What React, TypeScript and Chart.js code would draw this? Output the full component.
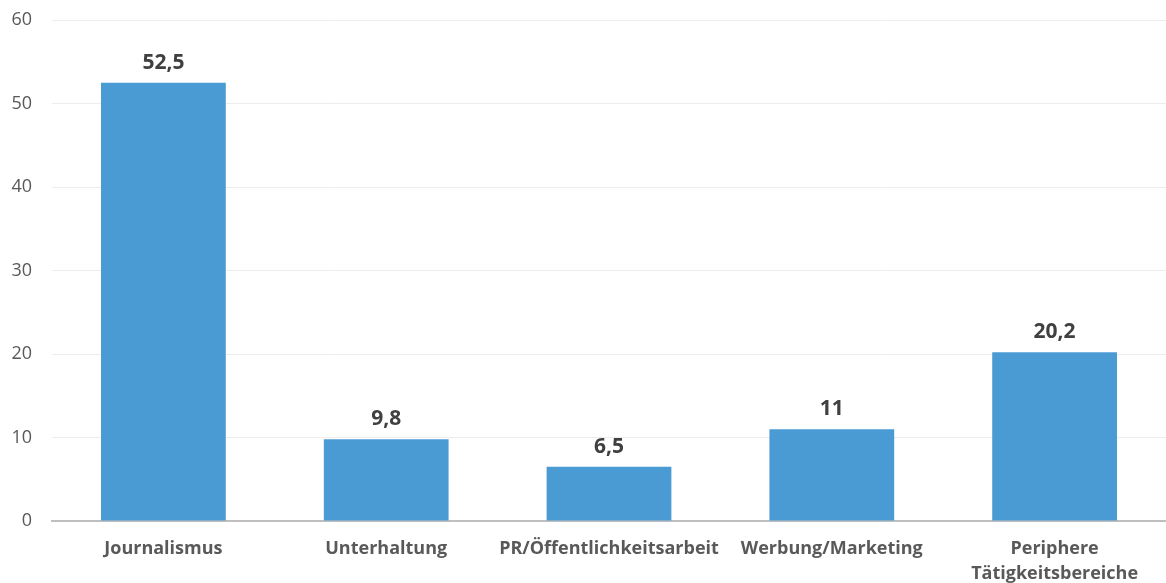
import React, { useEffect, useRef } from "react";
import { Chart, registerables } from "chart.js";

Chart.register(...registerables);

const categories: (string | string[])[] = [
  "Journalismus",
  "Unterhaltung",
  "PR/Öffentlichkeitsarbeit",
  "Werbung/Marketing",
  ["Periphere", "Tätigkeitsbereiche"],
];
const values: number[] = [52.5, 9.8, 6.5, 11, 20.2];
const yTicks: number[] = [0, 10, 20, 30, 40, 50, 60];

const FONT = "'Open Sans', sans-serif";
const TEXT = "#595959";
const BAR = "#4a9bd4";

const dataLabels = {
  id: "dataLabels",
  afterDatasetsDraw(chart: any) {
    const ctx = chart.ctx;
    const meta = chart.getDatasetMeta(0);
    ctx.save();
    ctx.font = `bold 21px ${FONT}`;
    ctx.fillStyle = "#404040";
    ctx.textAlign = "center";
    ctx.textBaseline = "alphabetic";
    meta.data.forEach((bar: any, i: number) => {
      const label = String(values[i]).replace(".", ",");
      ctx.fillText(label, bar.x, bar.y - 14);
    });
    ctx.restore();
  },
};

export default function App() {
  const ref = useRef<HTMLCanvasElement | null>(null);
  useEffect(() => {
    if (!ref.current) return;
    const chart = new Chart(ref.current, {
      type: "bar",
      data: {
        labels: categories,
        datasets: [
          {
            data: values,
            backgroundColor: BAR,
            barPercentage: 0.56,
            categoryPercentage: 1,
          },
        ],
      },
      options: {
        animation: false,
        responsive: true,
        maintainAspectRatio: false,
        layout: { padding: { top: 20, right: 0, bottom: 0, left: 0 } },
        plugins: {
          legend: { display: false },
          tooltip: { enabled: false },
        },
        scales: {
          x: {
            grid: { display: false, drawTicks: false },
            border: { display: true, color: "#bfbfbf", width: 2 },
            afterFit(scale: any) {
              scale.height = 62;
              scale.paddingLeft = 0;
              scale.paddingRight = 0;
            },
            ticks: {
              color: TEXT,
              font: { family: FONT, size: 18, weight: "bold", lineHeight: 1.4 },
              padding: 15,
              maxRotation: 0,
              autoSkip: false,
            },
          },
          y: {
            min: 0,
            max: 60,
            afterBuildTicks(scale: any) {
              scale.ticks = yTicks.map((v) => ({ value: v }));
            },
            afterFit(scale: any) {
              scale.width = 52;
              scale.paddingTop = 0;
              scale.paddingBottom = 0;
            },
            grid: { color: "#ececec", lineWidth: 1, drawTicks: false },
            border: { display: false },
            ticks: {
              color: TEXT,
              font: { family: FONT, size: 18 },
              padding: 20,
            },
          },
        },
      },
      plugins: [dataLabels],
    });
    return () => chart.destroy();
  }, []);
  return (
    <div style={{ position: "fixed", left: 0, top: 0, width: 1166, height: 583, background: "#fff" }}>
      <canvas ref={ref} />
    </div>
  );
}
